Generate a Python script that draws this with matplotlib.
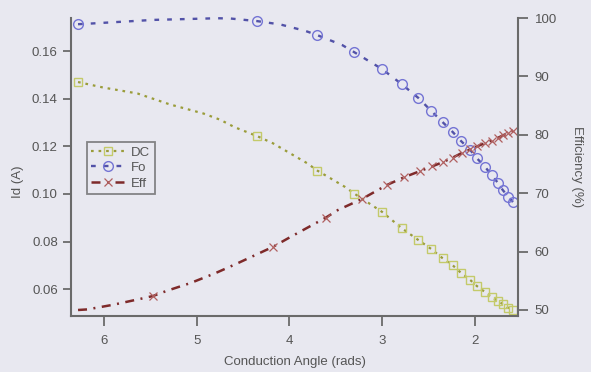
import numpy as np
import matplotlib
matplotlib.use('Agg')
import matplotlib.pyplot as plt

plt.rcParams['font.family'] = ['Liberation Sans', 'DejaVu Sans']

# conduction angle (rads) and values
dc_ang = [6.28, 6.01, 5.64, 5.29, 4.93, 4.75, 4.59, 4.35, 4.18, 3.96, 3.81, 3.70, 3.56, 3.40,
          3.30, 3.00, 2.79, 2.61, 2.47, 2.35, 2.24, 2.15, 2.05, 1.98, 1.89, 1.82, 1.75, 1.70,
          1.64, 1.59]
dc_val = [0.1470, 0.1447, 0.1422, 0.1376, 0.1338, 0.1312, 0.1280, 0.1243, 0.1213, 0.1163,
          0.1129, 0.1098, 0.1066, 0.1029, 0.1001, 0.0924, 0.0856, 0.0806, 0.0768, 0.0730,
          0.0700, 0.0668, 0.0638, 0.0613, 0.0587, 0.0566, 0.0550, 0.0537, 0.0521, 0.0512]

fo_ang = [6.28, 6.13, 5.47, 4.78, 4.64, 4.35, 4.10, 3.83, 3.70, 3.43, 3.30, 3.00, 2.79, 2.61,
          2.47, 2.35, 2.24, 2.15, 2.05, 1.98, 1.89, 1.82, 1.75, 1.70, 1.64, 1.59]
fo_val = [0.1713, 0.1716, 0.1731, 0.1738, 0.1737, 0.1726, 0.1712, 0.1685, 0.1667, 0.1625,
          0.1595, 0.1524, 0.1461, 0.1403, 0.1348, 0.1302, 0.1260, 0.1222, 0.1184, 0.1150,
          0.1113, 0.1079, 0.1045, 0.1016, 0.0987, 0.0966]

eff_ang = [6.28, 6.18, 5.90, 5.61, 5.47, 5.32, 5.07, 4.80, 4.56, 4.18, 3.99, 3.61, 3.48, 3.22,
           2.95, 2.77, 2.59, 2.46, 2.35, 2.24, 2.14, 2.05, 1.98, 1.89, 1.82, 1.75, 1.70, 1.64,
           1.59]
eff_val = [50.0, 50.1, 50.9, 51.9, 52.4, 53.3, 54.6, 56.3, 58.0, 60.8, 62.5, 65.8, 67.1, 69.0,
           71.4, 72.7, 73.8, 74.6, 75.3, 76.1, 76.9, 77.5, 78.0, 78.6, 79.0, 79.5, 79.9, 80.3,
           80.7]

# sample points that carry a marker
mark_ang = [6.28, 4.35, 3.70, 3.30, 3.00, 2.79, 2.61, 2.47, 2.35, 2.24, 2.15, 2.05, 1.98,
            1.89, 1.82, 1.75, 1.70, 1.64, 1.59]
eff_mark_ang = [5.47, 4.18, 3.61, 3.22, 2.95, 2.77, 2.59, 2.46, 2.35, 2.24, 2.14, 2.05, 1.98,
                1.89, 1.82, 1.75, 1.70, 1.64, 1.59]

bg = '#e8e8f0'
grey = '#6a6a6a'
txt = '#555555'

fig = plt.figure(figsize=(5.91, 3.72), dpi=100, facecolor=bg)
ax = fig.add_axes([0.1201, 0.1505, 0.7564, 0.8011])
ax.set_facecolor(bg)
ax2 = ax.twinx()

dc_idx = list(np.where(np.isin(dc_ang, mark_ang))[0])
fo_idx = list(np.where(np.isin(fo_ang, mark_ang))[0])
eff_idx = list(np.where(np.isin(eff_ang, eff_mark_ang))[0])

l1, = ax.plot(dc_ang, dc_val, color='#9a9c3a', lw=1.6, dashes=(1.2, 2.2),
              marker='s', markevery=dc_idx, ms=6, mfc='none', mec='#c4ca6a', mew=1.0,
              label='DC', clip_on=False)
l2, = ax.plot(fo_ang, fo_val, color='#5252a8', lw=1.7, dashes=(2.0, 3.4),
              marker='o', markevery=fo_idx, ms=7, mfc='none', mec='#7474d4', mew=1.0,
              label='Fo', clip_on=False)
l3, = ax2.plot(eff_ang, eff_val, color='#7e2a2a', lw=1.8, dashes=(3.6, 2.6, 0.8, 2.6),
               marker='x', markevery=eff_idx, ms=6, mec='#b06060', mew=0.9,
               label='Eff', clip_on=False)

ax.set_xlim(6.356, 1.536)
ax.set_ylim(0.0487, 0.1739)
ax2.set_ylim(48.97, 100)

ax.set_xticks([6, 5, 4, 3, 2])
ax.set_yticks([0.06, 0.08, 0.10, 0.12, 0.14, 0.16])
ax.set_yticklabels(['0.06', '0.08', '0.10', '0.12', '0.14', '0.16'])
ax2.set_yticks([50, 60, 70, 80, 90, 100])

for a in (ax, ax2):
    a.spines['top'].set_visible(False)
    for s in a.spines.values():
        s.set_color(grey)
        s.set_linewidth(1.5)
    a.tick_params(direction='out', length=6, width=1.3, color=grey,
                  labelcolor=txt, labelsize=9.5, pad=3.5)
ax.tick_params(axis='x', length=7, pad=7)
ax2.tick_params(axis='y', length=7, pad=5)
ax.spines['right'].set_visible(False)
ax2.spines['left'].set_visible(False)
ax2.spines['bottom'].set_visible(False)

ax.set_xlabel('Conduction Angle (rads)', color=txt, fontsize=9.5, labelpad=6)
ax.set_ylabel('Id (A)', color=txt, fontsize=9.5)
ax.yaxis.set_label_coords(-0.105, 0.45)
ax2.set_ylabel('Efficiency (%)', color=txt, fontsize=9.5, rotation=270, labelpad=19)

leg = ax.legend(handles=[l1, l2, l3], loc='upper left', bbox_to_anchor=(0.035, 0.585),
                fontsize=9.5, frameon=True, fancybox=False, handlelength=2.6,
                handletextpad=0.4, borderpad=0.35, labelspacing=0.25, borderaxespad=0)
leg.get_frame().set_edgecolor(grey)
leg.get_frame().set_linewidth(1.3)
leg.get_frame().set_facecolor(bg)
for t in leg.get_texts():
    t.set_color(txt)
leg.set_zorder(5)

fig.savefig('out.png', dpi=100, facecolor=bg)
